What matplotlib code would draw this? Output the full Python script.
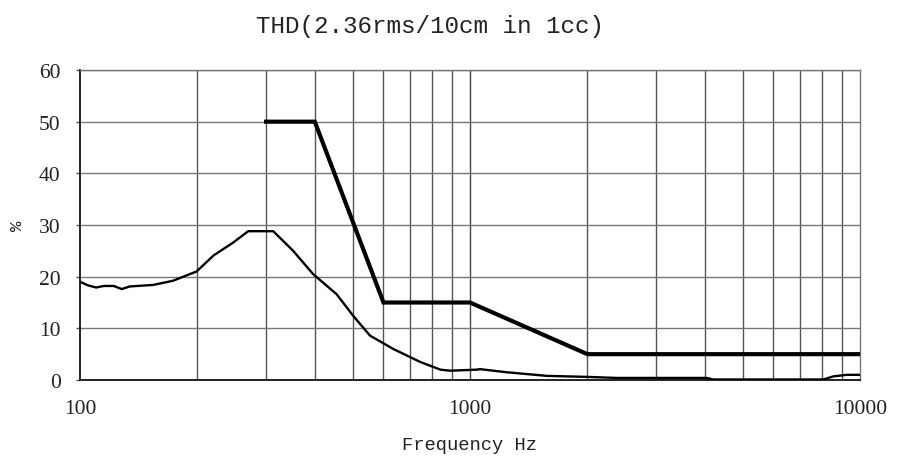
import matplotlib
matplotlib.use("Agg")
import matplotlib.pyplot as plt
from matplotlib.ticker import FixedLocator, NullFormatter

# measured THD curve (Hz, %)
freq = [100, 105, 110, 115, 122, 128, 134, 154, 173, 199, 220, 247, 270, 313,
        352, 396, 455, 502, 554, 636, 745, 840, 889, 1040, 1061, 1242, 1574,
        2000, 2377, 3000, 4047, 4200, 6000, 8054, 8540, 9245, 10000]
thd = [19.0, 18.3, 17.9, 18.2, 18.2, 17.6, 18.1, 18.4, 19.2, 21.0, 24.1, 26.6,
       28.8, 28.8, 25.0, 20.5, 16.6, 12.4, 8.6, 6.0, 3.5, 2.0, 1.8, 2.0, 2.1,
       1.5, 0.8, 0.6, 0.4, 0.4, 0.4, 0.1, 0.1, 0.1, 0.7, 1.0, 1.0]

# limit line (Hz, %)
lim_freq = [300, 400, 600, 1000, 2000, 10000]
lim_thd = [50, 50, 15, 15, 5, 5]

yticks = [0, 10, 20, 30, 40, 50, 60]
xticks = [100, 1000, 10000]
xlabels = ["100", "1000", "10000"]
minor_x = [200, 300, 400, 500, 600, 700, 800, 900,
           2000, 3000, 4000, 5000, 6000, 7000, 8000, 9000]

mono = "Liberation Mono"
serif = "Liberation Serif"

fig = plt.figure(figsize=(9.06, 4.6), dpi=100)
ax = fig.add_axes([80 / 906, 1 - 381 / 460, 780 / 906, 310 / 460])

ax.set_xscale("log")
ax.set_xlim(100, 10000)
ax.set_ylim(0, 60)

# grid
for x in minor_x:
    ax.axvline(x, color="#555555", lw=1.0, zorder=1)
ax.axvline(1000, color="#444444", lw=1.0, zorder=1)
for y in yticks[1:]:
    ax.axhline(y, color="#777777", lw=1.0, zorder=1)

ax.plot(freq, thd, color="black", lw=1.7, zorder=3)
ax.plot(lim_freq, lim_thd, color="black", lw=3.0, zorder=4,
        solid_joinstyle="miter")

ax.xaxis.set_major_locator(FixedLocator(xticks))
ax.set_xticklabels(xlabels)
ax.xaxis.set_minor_locator(FixedLocator(minor_x))
ax.xaxis.set_minor_formatter(NullFormatter())
ax.set_yticks(yticks)
ax.tick_params(axis="x", which="both", length=0, pad=14,
               labelsize=15.5)
ax.tick_params(axis="y", length=3, width=1, color="#555555", pad=11,
               labelsize=15.5)
for lab in ax.get_xticklabels() + ax.get_yticklabels():
    lab.set_fontfamily(serif)
    lab.set_color("#222222")

for side in ["left", "bottom"]:
    ax.spines[side].set_color("#222222")
    ax.spines[side].set_linewidth(1.4)
for side in ["top", "right"]:
    ax.spines[side].set_color("#777777")
    ax.spines[side].set_linewidth(1.0)

ax.set_xlabel("Frequency Hz", fontfamily=mono, fontsize=13.5,
              color="#222222", labelpad=13)
ax.set_ylabel("%", fontfamily=mono, fontsize=12.5, color="#222222",
              labelpad=10)

fig.text(430 / 906, 1 - 26 / 460, "THD(2.36rms/10cm in 1cc)",
         fontfamily=mono, fontsize=17.5, color="#222222",
         ha="center", va="center")

fig.savefig("out.png", dpi=100, facecolor="white")
